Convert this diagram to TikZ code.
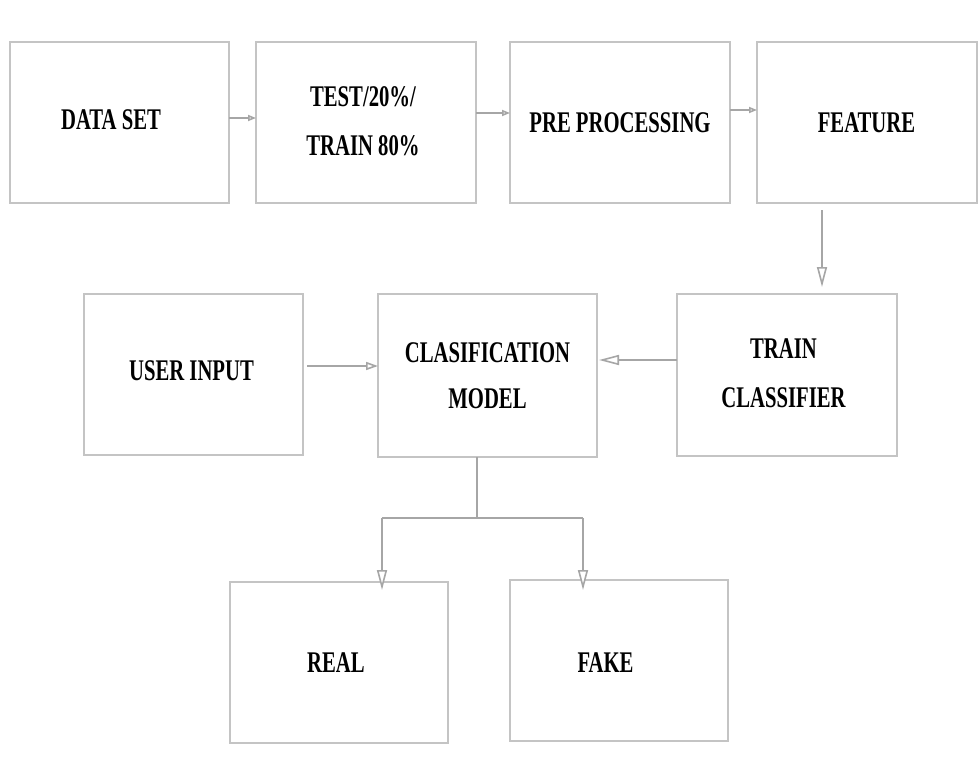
\documentclass[tikz,border=0pt]{standalone}
\usepackage{fontspec}
\newfontfamily\lblfont[FakeStretch=0.69]{Liberation Serif}
\usetikzlibrary{arrows.meta}
\definecolor{boxgray}{HTML}{C4C4C4}
\definecolor{arrgray}{HTML}{A6A6A6}
\begin{document}
\begin{tikzpicture}[x=1pt,y=-1pt,
  blk/.style={draw=boxgray,line width=1.4pt,rectangle,inner sep=0pt,outer sep=0pt},
  lbl/.style={anchor=base,align=center,inner sep=0pt,
    font=\lblfont\bfseries\fontsize{30}{49}\selectfont},
  con/.style={draw=arrgray,line width=1.6pt},
  tipS/.style={-{Triangle[open,length=8pt,width=6pt,fill=white]}},
  tipM/.style={-{Triangle[open,length=12pt,width=8pt,fill=white]}},
  tipL/.style={-{Triangle[open,length=20pt,width=10pt,fill=white]}}
]
\useasboundingbox (0,0) rectangle (980,784);
\fill[white] (0,0) rectangle (980,784);

% boxes
\node[blk,minimum width=219pt,minimum height=161pt] (ds)   at (119.5,122.5) {};
\node[blk,minimum width=220pt,minimum height=161pt] (tt)   at (366,122.5) {};
\node[blk,minimum width=220pt,minimum height=161pt] (pp)   at (620,122.5) {};
\node[blk,minimum width=220pt,minimum height=161pt] (ft)   at (867,122.5) {};
\node[blk,minimum width=219pt,minimum height=161pt] (ui)   at (193.5,374.5) {};
\node[blk,minimum width=219pt,minimum height=163pt] (cm)   at (487.5,375.5) {};
\node[blk,minimum width=220pt,minimum height=162pt] (tc)   at (787,375) {};
\node[blk,minimum width=218pt,minimum height=161pt] (rl)   at (339,662.5) {};
\node[blk,minimum width=218pt,minimum height=161pt] (fk)   at (619,660.5) {};

% labels (multi-line nodes: base = baseline of last line)
\node[lbl] (dsT) at (111,129) {DATA SET};
\node[lbl] (ttT) at (363,155) {TEST/20\%/\\TRAIN 80\%};
\node[lbl] (ppT) at (620,132) {PRE PROCESSING};
\node[lbl] (ftT) at (866.5,132) {FEATURE};
\node[lbl] (uiT) at (191.5,380) {USER INPUT};
\node[lbl,font=\lblfont\bfseries\fontsize{30}{46}\selectfont] (cmT) at (487.5,408) {CLASIFICATION\\MODEL};
\node[lbl] (tcT) at (783.5,407) {TRAIN\\CLASSIFIER};
\node[lbl] (rlT) at (336,672) {REAL};
\node[lbl] (fkT) at (605.5,672) {FAKE};

% helper coordinates
\coordinate (y118) at (0,118);
\coordinate (y113) at (0,113);
\coordinate (y110) at (0,110);
\coordinate (x822) at (822,0);
\coordinate (y360) at (0,360);
\coordinate (y366) at (0,366);
\coordinate (x477) at (477,0);
\coordinate (br)   at (477,518);
\coordinate (brL)  at (382,518);
\coordinate (brR)  at (583,518);

% connectors
\draw[con,tipS] (ds.east |- y118) -- (tt.west |- y118);
\draw[con,tipS] (tt.east |- y113) -- (pp.west |- y113);
\draw[con,tipS] (pp.east |- y110) -- (ft.west |- y110);
\draw[con,tipL,shorten <=7pt,shorten >=7pt] (ft.south -| x822) -- (tc.north -| x822);
\draw[con,tipL,shorten >=2pt] (tc.west |- y360) -- (cm.east |- y360);
\draw[con,tipM,shorten <=4pt] (ui.east |- y366) -- (cm.west |- y366);
\draw[con] (cm.south -| x477) -- (br);
\draw[con] (brL) -- (brR);
\draw[con,tipL,shorten >=-8pt] (brL) -- (rl.north -| brL);
\draw[con,tipL,shorten >=-10pt] (brR) -- (fk.north -| brR);
\end{tikzpicture}
\end{document}
